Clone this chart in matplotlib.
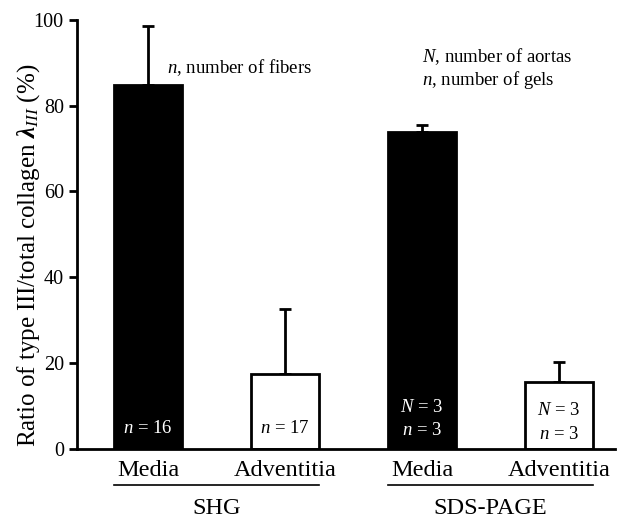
from matplotlib import pyplot as plt
from matplotlib import transforms as mtrans

plt.rcParams['font.family'] = ['Liberation Serif', 'DejaVu Serif']
plt.rcParams['mathtext.fontset'] = 'custom'
plt.rcParams['mathtext.rm'] = 'Liberation Serif'
plt.rcParams['mathtext.it'] = 'Liberation Serif:italic'
plt.rcParams['mathtext.bf'] = 'Liberation Serif:bold:italic'

# data
categories = ["Media", "Adventitia", "Media", "Adventitia"]
groups = ["SHG", "SDS-PAGE"]
values = [84.8, 17.3, 73.9, 15.5]
errors = [13.8, 15.2, 1.5, 4.8]
bar_colors = ["black", "white", "black", "white"]
sample_labels = [["$n$ = 16"], ["$n$ = 17"], ["$N$ = 3", "$n$ = 3"], ["$N$ = 3", "$n$ = 3"]]
sample_y = [[4.8], [4.8], [9.5, 4.3], [8.8, 3.2]]
text_colors = ["white", "black", "white", "black"]

fig = plt.figure(figsize=(6.19, 5.21), dpi=100)
ax = fig.add_axes([0.1244, 0.139, 0.869, 0.8225])

x = list(range(len(values)))
width = 0.5
ax.bar(x, values, width=width, color=bar_colors, edgecolor="black", linewidth=2, zorder=2)
lower = [0] * len(errors)
ax.errorbar(x, values, yerr=[lower, errors], fmt="none", ecolor="black",
			elinewidth=2, capsize=4, capthick=2, zorder=1)

for i in x:
	for lab, yy in zip(sample_labels[i], sample_y[i]):
		ax.text(i, yy, lab, ha="center", va="center", fontsize=13.5, color=text_colors[i])

ax.set_xlim(-0.52, 3.41)
ax.set_ylim(0, 100)
ax.set_yticks([0, 20, 40, 60, 80, 100])
ax.set_xticks([])
ax.tick_params(axis="y", direction="out", length=6, width=2, labelsize=14.5)
for side in ["top", "right"]:
	ax.spines[side].set_visible(False)
for side in ["left", "bottom"]:
	ax.spines[side].set_linewidth(2)

ax.set_ylabel(r"Ratio of type III/total collagen $\mathbf{\lambda}_{III}$ (%)", fontsize=18, va="center")
ax.yaxis.set_label_coords(-0.09, 0.45)

# category and group labels below the axis
trans = mtrans.blended_transform_factory(ax.transData, ax.transAxes)
for i, cat in enumerate(categories):
	ax.text(i, -0.052, cat, transform=trans, ha="center", va="center", fontsize=17.5)
for g, name in enumerate(groups):
	left = 2 * g - width / 2
	right = 2 * g + 1 + width / 2
	ax.plot([left, right], [-0.085, -0.085], color="black", linewidth=1.2, transform=trans, clip_on=False)
	ax.text(2 * g + 0.5, -0.139, name, transform=trans, ha="center", va="center", fontsize=17.5)

ax.text(0.14, 89, "$n$, number of fibers", fontsize=13.5, ha="left", va="center")
ax.text(2.0, 91.5, "$N$, number of aortas", fontsize=13.5, ha="left", va="center")
ax.text(2.0, 86, "$n$, number of gels", fontsize=13.5, ha="left", va="center")

fig.savefig("out.png", dpi=100)
